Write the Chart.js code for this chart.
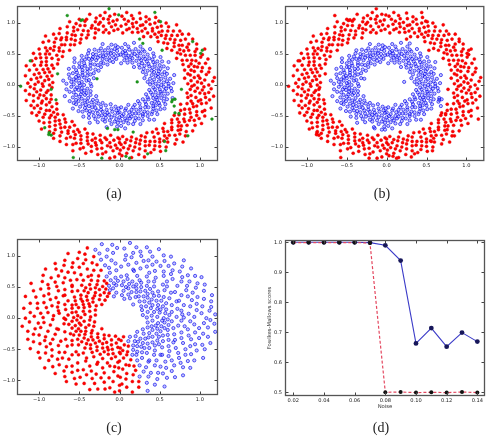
<!DOCTYPE html>
<html><head><meta charset="utf-8">
<script src="https://cdn.jsdelivr.net/npm/chart.js@4/dist/chart.umd.min.js"></script>
<style>
html,body{margin:0;padding:0;background:#fff;}
#wrap{position:relative;width:489px;height:438px;overflow:hidden;background:#fff;}
canvas{position:absolute;}
.cap{position:absolute;font-family:'Liberation Serif','DejaVu Serif',serif;font-size:14px;color:#222;transform:translate(-50%,-50%);line-height:1;white-space:nowrap;}
</style></head><body>
<div id="wrap">
<canvas id="ca" width="245" height="215" style="left:0;top:0"></canvas>
<canvas id="cb" width="244" height="215" style="left:245px;top:0"></canvas>
<canvas id="cc" width="245" height="218" style="left:0;top:220px"></canvas>
<canvas id="cd" width="244" height="218" style="left:245px;top:220px"></canvas>
<div class="cap" style="left:114px;top:194px">(a)</div>
<div class="cap" style="left:382px;top:194px">(b)</div>
<div class="cap" style="left:114px;top:428px">(c)</div>
<div class="cap" style="left:381px;top:428px">(d)</div>
</div>
<script>
// ---------- data: panels (a) and (b) ----------
const ringOuter = [
0.93,0,1.11,0,1.02,0.03,0.85,0.02,1.16,0.06,0.97,0.05,0.89,0.07,1.06,0.08,1,0.11,1.18,0.12,0.93,0.12,0.81,0.11,1.08,0.17,0.98,0.15,1.11,0.21,0.88,0.16,1.02,0.22,0.85,0.18,0.93,0.22,1.12,0.27,1.03,0.28,0.89,0.24,0.81,0.24,0.97,0.29,1.07,0.35,0.93,0.3,0.86,0.3,0.99,0.35,1.1,0.42,0.89,0.34,0.95,0.39,0.79,0.33,0.9,0.4,1.01,0.45,0.84,0.4,1.03,0.49,0.94,0.48,0.78,0.4,0.88,0.48,1.06,0.58,0.82,0.48,0.94,0.54,0.96,0.58,0.71,0.43,0.86,0.56,0.76,0.5,0.96,0.66,0.8,0.55,0.72,0.52,0.84,0.61,0.86,0.66,0.75,0.57,0.78,0.64,0.91,0.74,0.65,0.56,0.74,0.64,0.82,0.74,0.68,0.62,0.76,0.72,0.86,0.82,0.68,0.68,0.59,0.59,0.78,0.82,0.69,0.73,0.6,0.67,0.72,0.8,0.75,0.87,0.63,0.74,0.65,0.8,0.55,0.68,0.67,0.87,0.57,0.75,0.58,0.8,0.71,0.97,0.48,0.7,0.6,0.87,0.61,0.94,0.52,0.8,0.53,0.87,0.47,0.77,0.58,1,0.49,0.85,0.44,0.82,0.52,0.95,0.47,0.93,0.39,0.78,0.49,1.03,0.41,0.87,0.41,0.91,0.44,1,0.35,0.84,0.45,1.09,0.38,0.98,0.3,0.78,0.32,0.91,0.37,1.06,0.33,1.02,0.28,0.87,0.33,1.1,0.29,0.97,0.23,0.85,0.26,0.96,0.26,1.07,0.22,0.91,0.21,1.01,0.25,1.16,0.16,0.85,0.17,0.94,0.17,1.07,0.16,0.99,0.12,0.91,0.15,1.12,0.11,1.03,0.09,0.89,0.09,1.17,0.08,0.98,0.06,1.06,0.04,0.84,0.02,0.95,0.03,1.11,
-1.05,0.01,-0.87,0,-1.14,0.03,-0.96,0.02,-0.83,0.04,-1.01,0.05,-1.1,0.09,-0.93,0.07,-0.88,0.09,-1.03,0.11,-1.17,0.15,-0.98,0.13,-0.9,0.14,-1.06,0.17,-1,0.19,-0.84,0.15,-1.12,0.24,-0.93,0.2,-1.03,0.25,-0.87,0.21,-0.95,0.25,-1.16,0.31,-1.06,0.32,-0.89,0.26,-0.82,0.27,-0.98,0.32,-1.09,0.39,-0.91,0.32,-0.97,0.37,-0.84,0.32,-1.04,0.43,-0.91,0.38,-0.77,0.34,-0.98,0.44,-0.91,0.44,-1.07,0.51,-0.84,0.43,-0.99,0.5,-0.92,0.5,-0.76,0.41,-1,0.58,-0.87,0.5,-0.78,0.48,-0.9,0.55,-0.92,0.6,-0.71,0.46,-0.82,0.56,-0.86,0.59,-0.95,0.69,-0.75,0.55,-0.81,0.62,-0.7,0.54,-0.88,0.71,-0.75,0.6,-0.81,0.69,-0.92,0.79,-0.72,0.65,-0.62,0.56,-0.79,0.75,-0.68,0.65,-0.73,0.73,-0.82,0.82,-0.61,0.65,-0.72,0.76,-0.75,0.83,-0.66,0.73,-0.56,0.65,-0.66,0.77,-0.74,0.91,-0.6,0.74,-0.65,0.84,-0.55,0.72,-0.59,0.81,-0.49,0.68,-0.65,0.94,-0.55,0.8,-0.57,0.87,-0.48,0.74,-0.62,1.02,-0.57,0.93,-0.47,0.81,-0.52,0.89,-0.54,0.99,-0.41,0.76,-0.45,0.88,-0.49,0.96,-0.39,0.81,-0.5,1.06,-0.43,0.96,-0.39,0.87,-0.43,1.03,-0.31,0.76,-0.35,0.92,-0.41,1.06,-0.34,0.96,-0.3,0.84,-0.37,1.14,-0.3,0.91,-0.26,0.89,-0.3,1.02,-0.29,1.08,-0.26,0.98,-0.2,0.85,-0.24,1.01,-0.2,0.95,-0.24,1.12,-0.2,1.07,-0.17,0.89,-0.13,0.84,-0.18,1.17,-0.13,1,-0.14,1.06,-0.1,0.94,-0.12,1.11,-0.08,1.03,-0.07,0.88,-0.06,1.14,-0.05,0.97,-0.02,0.9,-0.03,1.05,
0,-0.93,0,-1.11,-0.03,-1.02,-0.02,-0.85,-0.06,-1.16,-0.05,-0.97,-0.07,-0.89,-0.08,-1.06,-0.11,-1,-0.12,-1.18,-0.12,-0.93,-0.11,-0.81,-0.17,-1.08,-0.15,-0.98,-0.21,-1.11,-0.16,-0.88,-0.22,-1.02,-0.18,-0.85,-0.22,-0.93,-0.27,-1.12,-0.28,-1.03,-0.24,-0.89,-0.24,-0.81,-0.29,-0.97,-0.35,-1.07,-0.3,-0.93,-0.3,-0.86,-0.35,-0.99,-0.42,-1.1,-0.34,-0.89,-0.39,-0.95,-0.33,-0.79,-0.4,-0.9,-0.45,-1.01,-0.4,-0.84,-0.49,-1.03,-0.48,-0.94,-0.4,-0.78,-0.48,-0.88,-0.58,-1.06,-0.48,-0.82,-0.54,-0.94,-0.58,-0.96,-0.43,-0.71,-0.56,-0.86,-0.5,-0.76,-0.66,-0.96,-0.55,-0.8,-0.52,-0.72,-0.61,-0.84,-0.66,-0.86,-0.57,-0.75,-0.64,-0.78,-0.74,-0.91,-0.56,-0.65,-0.64,-0.74,-0.74,-0.82,-0.62,-0.68,-0.72,-0.76,-0.82,-0.86,-0.68,-0.68,-0.59,-0.59,-0.82,-0.78,-0.73,-0.69,-0.67,-0.6,-0.8,-0.72,-0.87,-0.75,-0.74,-0.63,-0.8,-0.65,-0.68,-0.55,-0.87,-0.67,-0.75,-0.57,-0.8,-0.58,-0.97,-0.71,-0.7,-0.48,-0.87,-0.6,-0.94,-0.61,-0.8,-0.52,-0.87,-0.53,-0.77,-0.47,-1,-0.58,-0.85,-0.49,-0.82,-0.44,-0.95,-0.52,-0.93,-0.47,-0.78,-0.39,-1.03,-0.49,-0.87,-0.41,-0.91,-0.41,-1,-0.44,-0.84,-0.35,-1.09,-0.45,-0.98,-0.38,-0.78,-0.3,-0.91,-0.32,-1.06,-0.37,-1.02,-0.33,-0.87,-0.28,-1.1,-0.33,-0.97,-0.29,-0.85,-0.23,-0.96,-0.26,-1.07,-0.26,-0.91,-0.22,-1.01,-0.21,-1.16,-0.25,-0.85,-0.16,-0.94,-0.17,-1.07,-0.17,-0.99,-0.16,-0.91,-0.12,-1.12,-0.15,-1.03,-0.11,-0.89,-0.09,-1.17,-0.09,-0.98,-0.08,-1.06,-0.06,-0.84,-0.04,-0.95,-0.02,-1.11,-0.03,
0.01,-1.05,0,-0.87,0.03,-1.14,0.02,-0.96,0.04,-0.83,0.05,-1.01,0.09,-1.1,0.07,-0.93,0.09,-0.88,0.11,-1.03,0.15,-1.17,0.13,-0.98,0.14,-0.9,0.17,-1.06,0.19,-1,0.15,-0.84,0.24,-1.12,0.2,-0.93,0.25,-1.03,0.21,-0.87,0.25,-0.95,0.31,-1.16,0.32,-1.06,0.26,-0.89,0.27,-0.82,0.32,-0.98,0.39,-1.09,0.32,-0.91,0.37,-0.97,0.32,-0.84,0.43,-1.04,0.38,-0.91,0.34,-0.77,0.44,-0.98,0.44,-0.91,0.51,-1.07,0.43,-0.84,0.5,-0.99,0.5,-0.92,0.41,-0.76,0.58,-1,0.5,-0.87,0.48,-0.78,0.55,-0.9,0.6,-0.92,0.46,-0.71,0.56,-0.82,0.59,-0.86,0.69,-0.95,0.55,-0.75,0.62,-0.81,0.54,-0.7,0.71,-0.88,0.6,-0.75,0.69,-0.81,0.79,-0.92,0.65,-0.72,0.56,-0.62,0.75,-0.79,0.65,-0.68,0.73,-0.73,0.82,-0.82,0.65,-0.61,0.76,-0.72,0.83,-0.75,0.73,-0.66,0.65,-0.56,0.77,-0.66,0.91,-0.74,0.74,-0.6,0.84,-0.65,0.72,-0.55,0.81,-0.59,0.68,-0.49,0.94,-0.65,0.8,-0.55,0.87,-0.57,0.74,-0.48,1.02,-0.62,0.93,-0.57,0.81,-0.47,0.89,-0.52,0.99,-0.54,0.76,-0.41,0.88,-0.45,0.96,-0.49,0.81,-0.39,1.06,-0.5,0.96,-0.43,0.87,-0.39,1.03,-0.43,0.76,-0.31,0.92,-0.35,1.06,-0.41,0.96,-0.34,0.84,-0.3,1.14,-0.37,0.91,-0.3,0.89,-0.26,1.02,-0.3,1.08,-0.29,0.98,-0.26,0.85,-0.2,1.01,-0.24,0.95,-0.2,1.12,-0.24,1.07,-0.2,0.89,-0.17,0.84,-0.13,1.17,-0.18,1,-0.13,1.06,-0.14,0.94,-0.1,1.11,-0.12,1.03,-0.08,0.88,-0.07,1.14,-0.06,0.97,-0.05,0.9,-0.02,1.05,-0.03
];
const ringInner = [
0.52,0,0.38,0.01,0.61,0.02,0.45,0.02,0.67,0.03,0.55,0.04,0.41,0.04,0.59,0.06,0.49,0.06,0.63,0.1,0.35,0.05,0.52,0.1,0.43,0.09,0.57,0.12,0.68,0.16,0.48,0.13,0.38,0.1,0.59,0.18,0.45,0.15,0.53,0.17,0.31,0.11,0.56,0.21,0.48,0.18,0.4,0.16,0.6,0.27,0.49,0.22,0.43,0.21,0.33,0.17,0.51,0.26,0.55,0.3,0.4,0.23,0.46,0.27,0.61,0.37,0.35,0.23,0.5,0.32,0.41,0.28,0.53,0.38,0.29,0.21,0.44,0.33,0.37,0.3,0.47,0.38,0.3,0.26,0.42,0.37,0.51,0.45,0.36,0.34,0.31,0.31,0.41,0.41,0.43,0.46,0.34,0.38,0.25,0.28,0.37,0.43,0.28,0.35,0.42,0.51,0.32,0.42,0.35,0.49,0.24,0.33,0.27,0.4,0.3,0.46,0.38,0.58,0.18,0.29,0.31,0.54,0.25,0.43,0.21,0.39,0.26,0.51,0.29,0.57,0.22,0.47,0.16,0.36,0.24,0.54,0.26,0.62,0.16,0.43,0.19,0.5,0.2,0.58,0.13,0.41,0.15,0.48,0.16,0.54,0.18,0.68,0.1,0.36,0.11,0.47,0.12,0.57,0.09,0.44,0.11,0.62,0.08,0.51,0.06,0.4,0.07,0.55,0.05,0.47,0.07,0.66,0.04,0.53,0.03,0.6,0.02,0.35,0.01,0.49,
-0.57,0.01,-0.44,0,-0.66,0.02,-0.5,0.03,-0.36,0.02,-0.6,0.05,-0.47,0.05,-0.7,0.07,-0.54,0.07,-0.41,0.07,-0.57,0.09,-0.62,0.11,-0.5,0.11,-0.38,0.08,-0.54,0.13,-0.63,0.17,-0.44,0.12,-0.51,0.15,-0.32,0.11,-0.58,0.19,-0.46,0.16,-0.53,0.2,-0.4,0.15,-0.63,0.26,-0.46,0.2,-0.54,0.24,-0.36,0.17,-0.57,0.29,-0.46,0.24,-0.4,0.21,-0.5,0.29,-0.32,0.19,-0.47,0.29,-0.56,0.37,-0.4,0.26,-0.5,0.35,-0.36,0.26,-0.43,0.31,-0.56,0.43,-0.3,0.25,-0.44,0.35,-0.47,0.4,-0.36,0.32,-0.26,0.23,-0.43,0.41,-0.36,0.36,-0.47,0.47,-0.31,0.33,-0.38,0.42,-0.41,0.46,-0.27,0.32,-0.34,0.42,-0.23,0.29,-0.39,0.51,-0.29,0.4,-0.33,0.45,-0.38,0.56,-0.23,0.36,-0.33,0.5,-0.27,0.44,-0.2,0.35,-0.29,0.49,-0.31,0.57,-0.21,0.42,-0.24,0.47,-0.26,0.55,-0.15,0.33,-0.2,0.46,-0.21,0.52,-0.23,0.59,-0.16,0.41,-0.17,0.48,-0.18,0.56,-0.21,0.66,-0.12,0.39,-0.14,0.52,-0.12,0.45,-0.14,0.6,-0.08,0.37,-0.11,0.51,-0.1,0.56,-0.1,0.65,-0.07,0.44,-0.07,0.5,-0.06,0.58,-0.04,0.42,-0.05,0.64,-0.02,0.48,-0.03,0.55,-0.02,0.61,
0,-0.52,-0.01,-0.38,-0.02,-0.61,-0.02,-0.45,-0.03,-0.67,-0.04,-0.55,-0.04,-0.41,-0.06,-0.59,-0.06,-0.49,-0.1,-0.63,-0.05,-0.35,-0.1,-0.52,-0.09,-0.43,-0.12,-0.57,-0.16,-0.68,-0.13,-0.48,-0.1,-0.38,-0.18,-0.59,-0.15,-0.45,-0.17,-0.53,-0.11,-0.31,-0.21,-0.56,-0.18,-0.48,-0.16,-0.4,-0.27,-0.6,-0.22,-0.49,-0.21,-0.43,-0.17,-0.33,-0.26,-0.51,-0.3,-0.55,-0.23,-0.4,-0.27,-0.46,-0.37,-0.61,-0.23,-0.35,-0.32,-0.5,-0.28,-0.41,-0.38,-0.53,-0.21,-0.29,-0.33,-0.44,-0.3,-0.37,-0.38,-0.47,-0.26,-0.3,-0.37,-0.42,-0.45,-0.51,-0.34,-0.36,-0.31,-0.31,-0.41,-0.41,-0.46,-0.43,-0.38,-0.34,-0.28,-0.25,-0.43,-0.37,-0.35,-0.28,-0.51,-0.42,-0.42,-0.32,-0.49,-0.35,-0.33,-0.24,-0.4,-0.27,-0.46,-0.3,-0.58,-0.38,-0.29,-0.18,-0.54,-0.31,-0.43,-0.25,-0.39,-0.21,-0.51,-0.26,-0.57,-0.29,-0.47,-0.22,-0.36,-0.16,-0.54,-0.24,-0.62,-0.26,-0.43,-0.16,-0.5,-0.19,-0.58,-0.2,-0.41,-0.13,-0.48,-0.15,-0.54,-0.16,-0.68,-0.18,-0.36,-0.1,-0.47,-0.11,-0.57,-0.12,-0.44,-0.09,-0.62,-0.11,-0.51,-0.08,-0.4,-0.06,-0.55,-0.07,-0.47,-0.05,-0.66,-0.07,-0.53,-0.04,-0.6,-0.03,-0.35,-0.02,-0.49,-0.01,
0.01,-0.57,0,-0.44,0.02,-0.66,0.03,-0.5,0.02,-0.36,0.05,-0.6,0.05,-0.47,0.07,-0.7,0.07,-0.54,0.07,-0.41,0.09,-0.57,0.11,-0.62,0.11,-0.5,0.08,-0.38,0.13,-0.54,0.17,-0.63,0.12,-0.44,0.15,-0.51,0.11,-0.32,0.19,-0.58,0.16,-0.46,0.2,-0.53,0.15,-0.4,0.26,-0.63,0.2,-0.46,0.24,-0.54,0.17,-0.36,0.29,-0.57,0.24,-0.46,0.21,-0.4,0.29,-0.5,0.19,-0.32,0.29,-0.47,0.37,-0.56,0.26,-0.4,0.35,-0.5,0.26,-0.36,0.31,-0.43,0.43,-0.56,0.25,-0.3,0.35,-0.44,0.4,-0.47,0.32,-0.36,0.23,-0.26,0.41,-0.43,0.36,-0.36,0.47,-0.47,0.33,-0.31,0.42,-0.38,0.46,-0.41,0.32,-0.27,0.42,-0.34,0.29,-0.23,0.51,-0.39,0.4,-0.29,0.45,-0.33,0.56,-0.38,0.36,-0.23,0.5,-0.33,0.44,-0.27,0.35,-0.2,0.49,-0.29,0.57,-0.31,0.42,-0.21,0.47,-0.24,0.55,-0.26,0.33,-0.15,0.46,-0.2,0.52,-0.21,0.59,-0.23,0.41,-0.16,0.48,-0.17,0.56,-0.18,0.66,-0.21,0.39,-0.12,0.52,-0.14,0.45,-0.12,0.6,-0.14,0.37,-0.08,0.51,-0.11,0.56,-0.1,0.65,-0.1,0.44,-0.07,0.5,-0.07,0.58,-0.06,0.42,-0.04,0.64,-0.05,0.48,-0.02,0.55,-0.03,0.61,-0.02
];
// points marked as noise in (a); in (b) they belong to the outer / inner ring
const noiseOuter = [
-0.65,1.12,-0.48,1.04,-0.46,1.05,-0.13,1.23,-0.01,1.13,0.44,1.17,0.51,1.02,0.25,0.74,0.53,0.56,0.91,0.7,1.01,0.51,1.03,0.56,-1.11,0.39,-0.77,0.18,-1.23,-0.02,-0.85,-0.07,0.77,-0.07,0.69,-0.45,0.74,-0.46,1.15,-0.55,-0.79,-0.24,-0.93,-0.69,-0.875,-0.77,-0.85,-0.81,-0.88,-0.8,0.17,-0.76,0.85,-0.82,0.56,-0.91,-0.575,-1.17,-0.22,-1.18,0.08,-1.15,0.125,-1.18,0.35,-1.11,0.575,-1.06
];
const noiseInner = [
0.29,0.67,-0.28,0.1,0.22,0.05,0.66,-0.24,0.69,-0.23,0.65,-0.27,0.68,-0.34,-0.15,-0.7,-0.06,-0.72,-0.02,-0.72
];
// ---------- data: panel (c) ----------
const noisyRed = [
0,-1.08,-0.01,-0.8,-0.02,-0.93,-0.06,-1.19,-0.07,-0.86,-0.08,-1.02,-0.12,-1.12,-0.13,-0.96,-0.12,-0.77,-0.18,-1.14,-0.19,-1.03,-0.19,-0.88,-0.27,-1.14,-0.23,-0.96,-0.21,-0.8,-0.31,-1.05,-0.29,-0.9,-0.37,-1.15,-0.34,-0.97,-0.27,-0.71,-0.44,-1.05,-0.35,-0.85,-0.41,-0.91,-0.37,-0.77,-0.54,-1.06,-0.49,-0.95,-0.45,-0.83,-0.56,-0.97,-0.42,-0.69,-0.52,-0.84,-0.66,-1.02,-0.59,-0.87,-0.52,-0.72,-0.68,-0.94,-0.59,-0.77,-0.69,-0.85,-0.51,-0.59,-0.66,-0.78,-0.8,-0.89,-0.63,-0.66,-0.75,-0.75,-0.59,-0.59,-0.83,-0.78,-0.71,-0.64,-0.77,-0.66,-0.93,-0.8,-0.68,-0.55,-0.88,-0.68,-0.75,-0.55,-0.84,-0.61,-0.65,-0.45,-0.99,-0.64,-0.84,-0.51,-0.92,-0.56,-0.76,-0.44,-1.01,-0.55,-0.91,-0.46,-0.73,-0.37,-0.86,-0.41,-1.11,-0.49,-0.99,-0.41,-0.83,-0.34,-0.93,-0.36,-1.07,-0.38,-0.8,-0.26,-0.92,-0.3,-1.14,-0.34,-1,-0.27,-0.89,-0.21,-1.07,-0.26,-0.78,-0.17,-1.14,-0.21,-0.98,-0.15,-1.05,-0.17,-0.86,-0.11,-1.21,-0.13,-1.01,-0.08,-0.94,-0.07,-1.12,-0.06,-0.83,-0.02,
-0.95,0.01,-1.17,0,-1.06,0.03,-0.82,0.04,-1.11,0.09,-0.98,0.08,-0.89,0.09,-1.19,0.16,-1.02,0.16,-0.76,0.12,-0.91,0.17,-1.11,0.24,-0.84,0.2,-1.02,0.24,-0.94,0.25,-1.17,0.35,-0.76,0.25,-1.04,0.34,-0.86,0.3,-0.94,0.36,-1.07,0.44,-0.79,0.33,-0.88,0.39,-0.98,0.47,-0.7,0.36,-1.1,0.56,-0.88,0.48,-0.76,0.44,-0.96,0.59,-0.89,0.54,-0.78,0.51,-0.68,0.46,-0.95,0.69,-0.8,0.58,-0.85,0.65,-0.7,0.57,-0.92,0.79,-0.59,0.51,-0.76,0.68,-0.68,0.65,-0.79,0.79,-0.61,0.61,-0.72,0.76,-0.8,0.88,-0.53,0.62,-0.64,0.74,-0.69,0.85,-0.56,0.73,-0.68,0.93,-0.59,0.82,-0.48,0.7,-0.58,0.89,-0.5,0.82,-0.64,1.04,-0.39,0.67,-0.52,0.96,-0.45,0.88,-0.4,0.79,-0.5,1.06,-0.42,0.94,-0.32,0.77,-0.43,1.03,-0.34,0.89,-0.4,1.13,-0.32,0.99,-0.28,0.86,-0.23,0.77,
0.01,-0.95,0,-1.17,0.03,-1.06,0.04,-0.82,0.09,-1.11,0.08,-0.98,0.09,-0.89,0.16,-1.19,0.16,-1.02,0.12,-0.76,0.17,-0.91,0.24,-1.11,0.2,-0.84,0.24,-1.02,
0,-0.55,-0.01,-0.34,-0.02,-0.71,-0.02,-0.47,-0.05,-0.62,-0.06,-0.78,-0.04,-0.4,-0.08,-0.57,-0.05,-0.29,-0.1,-0.65,-0.09,-0.5,-0.15,-0.72,-0.1,-0.43,-0.14,-0.58,-0.14,-0.51,-0.1,-0.35,-0.21,-0.65,-0.15,-0.47,-0.19,-0.54,-0.28,-0.74,-0.16,-0.39,-0.24,-0.58,-0.21,-0.48,-0.13,-0.28,-0.32,-0.62,-0.21,-0.41,-0.28,-0.52,-0.19,-0.33,-0.34,-0.55,-0.28,-0.46,-0.41,-0.64,-0.25,-0.37,-0.36,-0.49,-0.19,-0.27,-0.3,-0.4,-0.45,-0.56,-0.36,-0.43,-0.27,-0.31,-0.43,-0.48,-0.33,-0.35,-0.54,-0.54,-0.41,-0.41,-0.27,-0.25,-0.39,-0.35,-0.51,-0.43,-0.35,-0.3,-0.47,-0.38,-0.22,-0.17,-0.44,-0.32,-0.59,-0.43,-0.35,-0.24,-0.52,-0.34,-0.43,-0.26,-0.59,-0.36,-0.34,-0.2,-0.5,-0.27,-0.67,-0.34,-0.42,-0.21,-0.57,-0.27,-0.48,-0.21,-0.32,-0.13,-0.61,-0.25,-0.54,-0.21,-0.42,-0.15,-0.68,-0.22,-0.51,-0.17,-0.38,-0.11,-0.59,-0.16,-0.48,-0.11,-0.76,-0.18,-0.55,-0.12,-0.31,-0.06,-0.63,-0.1,-0.5,-0.08,-0.69,-0.09,-0.44,-0.05,-0.59,-0.05,-0.37,-0.03,-0.53,-0.03,-0.67,-0.02,
-0.48,0.01,-0.69,0,-0.57,0.01,-0.36,0.02,-0.64,0.05,-0.52,0.04,-0.75,0.08,-0.43,0.06,-0.59,0.09,-0.3,0.05,-0.54,0.1,-0.67,0.14,-0.45,0.11,-0.77,0.18,-0.59,0.16,-0.37,0.11,-0.51,0.17,-0.68,0.22,-0.59,0.21,-0.44,0.17,-0.3,0.13,-0.54,0.22,-0.64,0.28,-0.45,0.22,-0.55,0.28,-0.37,0.19,-0.68,0.37,-0.46,0.27,-0.38,0.23,-0.56,0.34,-0.48,0.31,-0.29,0.2,-0.59,0.43,-0.4,0.29,-0.48,0.37,-0.33,0.26,-0.52,0.44,-0.41,0.35,-0.59,0.53,-0.33,0.32,-0.44,0.44,-0.22,0.22,-0.39,0.41,-0.47,0.53,-0.31,0.36,-0.42,0.49,-0.25,0.3,-0.36,0.47,-0.45,0.61,-0.3,0.41,-0.37,0.54,-0.24,0.37,-0.3,0.49,-0.18,0.29,-0.35,0.61,-0.25,0.46,-0.28,0.54,-0.35,0.69,-0.19,0.41,-0.27,0.6,-0.21,0.51,-0.15,0.35,-0.26,0.68,-0.17,0.47,-0.19,0.6,-0.13,0.4,-0.16,0.56,
0.01,-0.48,0,-0.69,0.01,-0.57,0.02,-0.36,0.05,-0.64,0.04,-0.52,0.08,-0.75,0.06,-0.43,0.09,-0.59,0.05,-0.3,0.1,-0.54,0.14,-0.67,0.11,-0.45,0.18,-0.77
];
const noisyBlue = [
1.08,0,0.8,0.01,0.93,0.02,1.19,0.06,0.86,0.07,1.02,0.08,1.12,0.12,0.96,0.13,0.77,0.12,1.14,0.18,1.03,0.19,0.88,0.19,1.14,0.27,0.96,0.23,0.8,0.21,1.05,0.31,0.9,0.29,1.15,0.37,0.97,0.34,0.71,0.27,1.05,0.44,0.85,0.35,0.91,0.41,0.77,0.37,1.06,0.54,0.95,0.49,0.83,0.45,0.97,0.56,0.69,0.42,0.84,0.52,1.02,0.66,0.87,0.59,0.72,0.52,0.94,0.68,0.77,0.59,0.85,0.69,0.59,0.51,0.78,0.66,0.89,0.8,0.66,0.63,0.75,0.75,0.59,0.59,0.78,0.83,0.64,0.71,0.66,0.77,0.8,0.93,0.55,0.68,0.68,0.88,0.55,0.75,0.61,0.84,0.45,0.65,0.64,0.99,0.51,0.84,0.56,0.92,0.44,0.76,0.55,1.01,0.46,0.91,0.37,0.73,0.41,0.86,0.49,1.11,0.41,0.99,0.34,0.83,0.36,0.93,0.38,1.07,0.26,0.8,0.3,0.92,0.34,1.14,0.27,1,0.21,0.89,0.26,1.07,0.17,0.78,0.21,1.14,0.15,0.98,0.17,1.05,0.11,0.86,0.13,1.21,0.08,1.01,0.07,0.94,0.06,1.12,0.02,0.83,
-0.3,1.1,-0.23,0.94,-0.25,1.04,-0.18,0.85,-0.22,1.19,-0.16,0.99,-0.13,0.81,-0.15,1.1,-0.1,0.93,-0.08,1.05,-0.09,1.18,-0.05,0.88,-0.03,1.13,
0.25,-0.94,0.35,-1.17,0.25,-0.76,0.34,-1.04,0.3,-0.86,0.36,-0.94,0.44,-1.07,0.33,-0.79,0.39,-0.88,0.47,-0.98,0.36,-0.7,0.56,-1.1,0.48,-0.88,0.44,-0.76,0.59,-0.96,0.54,-0.89,0.51,-0.78,0.46,-0.68,0.69,-0.95,0.58,-0.8,0.65,-0.85,0.57,-0.7,0.79,-0.92,0.51,-0.59,0.68,-0.76,0.65,-0.68,0.79,-0.79,0.61,-0.61,0.76,-0.72,0.88,-0.8,0.62,-0.53,0.74,-0.64,0.85,-0.69,0.73,-0.56,0.93,-0.68,0.82,-0.59,0.7,-0.48,0.89,-0.58,0.82,-0.5,1.04,-0.64,0.67,-0.39,0.96,-0.52,0.88,-0.45,0.79,-0.4,1.06,-0.5,0.94,-0.42,0.77,-0.32,1.03,-0.43,0.89,-0.34,1.13,-0.4,0.99,-0.32,0.86,-0.28,0.77,-0.23,1.1,-0.3,0.94,-0.23,1.04,-0.25,0.85,-0.18,1.19,-0.22,0.99,-0.16,0.81,-0.13,1.1,-0.15,0.93,-0.1,1.05,-0.08,1.18,-0.09,0.88,-0.05,1.13,-0.03,
0.55,0,0.34,0.01,0.71,0.02,0.47,0.02,0.62,0.05,0.78,0.06,0.4,0.04,0.57,0.08,0.29,0.05,0.65,0.1,0.5,0.09,0.72,0.15,0.43,0.1,0.58,0.14,0.51,0.14,0.35,0.1,0.65,0.21,0.47,0.15,0.54,0.19,0.74,0.28,0.39,0.16,0.58,0.24,0.48,0.21,0.28,0.13,0.62,0.32,0.41,0.21,0.52,0.28,0.33,0.19,0.55,0.34,0.46,0.28,0.64,0.41,0.37,0.25,0.49,0.36,0.27,0.19,0.4,0.3,0.56,0.45,0.43,0.36,0.31,0.27,0.48,0.43,0.35,0.33,0.54,0.54,0.41,0.41,0.25,0.27,0.35,0.39,0.43,0.51,0.3,0.35,0.38,0.47,0.17,0.22,0.32,0.44,0.43,0.59,0.24,0.35,0.34,0.52,0.26,0.43,0.36,0.59,0.2,0.34,0.27,0.5,0.34,0.67,0.21,0.42,0.27,0.57,0.21,0.48,0.13,0.32,0.25,0.61,0.21,0.54,0.15,0.42,0.22,0.68,0.17,0.51,0.11,0.38,0.16,0.59,0.11,0.48,0.18,0.76,0.12,0.55,0.06,0.31,0.1,0.63,0.08,0.5,0.09,0.69,0.05,0.44,0.05,0.59,0.03,0.37,0.03,0.53,0.02,0.67,
-0.12,0.45,-0.16,0.67,-0.13,0.52,-0.07,0.35,-0.11,0.61,-0.12,0.73,-0.08,0.48,-0.07,0.56,-0.04,0.41,-0.05,0.65,-0.04,0.53,-0.04,0.77,-0.02,0.6,
0.16,-0.59,0.11,-0.37,0.17,-0.51,0.22,-0.68,0.21,-0.59,0.17,-0.44,0.13,-0.3,0.22,-0.54,0.28,-0.64,0.22,-0.45,0.28,-0.55,0.19,-0.37,0.37,-0.68,0.27,-0.46,0.23,-0.38,0.34,-0.56,0.31,-0.48,0.2,-0.29,0.43,-0.59,0.29,-0.4,0.37,-0.48,0.26,-0.33,0.44,-0.52,0.35,-0.41,0.53,-0.59,0.32,-0.33,0.44,-0.44,0.22,-0.22,0.41,-0.39,0.53,-0.47,0.36,-0.31,0.49,-0.42,0.3,-0.25,0.47,-0.36,0.61,-0.45,0.41,-0.3,0.54,-0.37,0.37,-0.24,0.49,-0.3,0.29,-0.18,0.61,-0.35,0.46,-0.25,0.54,-0.28,0.69,-0.35,0.41,-0.19,0.6,-0.27,0.51,-0.21,0.35,-0.15,0.68,-0.26,0.47,-0.17,0.6,-0.19,0.4,-0.13,0.56,-0.16,0.45,-0.12,0.67,-0.16,0.52,-0.13,0.35,-0.07,0.61,-0.11,0.73,-0.12,0.48,-0.08,0.56,-0.07,0.41,-0.04,0.65,-0.05,0.53,-0.04,0.77,-0.04,0.6,-0.02
];
// ---------- data: panel (d) ----------
const noiseLevels = [0.02,0.03,0.04,0.05,0.06,0.07,0.08,0.09,0.10,0.11,0.12,0.13,0.14];
const scoresSolid = [1.0,1.0,1.0,1.0,1.0,0.999,0.99,0.939,0.663,0.714,0.652,0.699,0.669];
const scoresDashed = [0.999,0.999,0.999,0.999,0.999,0.998,0.5,0.501,0.499,0.5,0.499,0.501,0.499];
// ---------- ticks ----------
const ringTicks = [-1, -0.5, 0, 0.5, 1];
const ringTickLabels = ['\u22121.0', '\u22120.5', '0.0', '0.5', '1.0'];
const noiseTicks = [0.02, 0.04, 0.06, 0.08, 0.10, 0.12, 0.14];
const noiseTickLabels = ['0.02', '0.04', '0.06', '0.08', '0.10', '0.12', '0.14'];
const scoreTicks = [0.5, 0.6, 0.7, 0.8, 0.9, 1.0];
const scoreTickLabels = ['0.5', '0.6', '0.7', '0.8', '0.9', '1.0'];

function toPoints(flat) {
  const out = [];
  for (let i = 0; i < flat.length; i += 2) out.push({x: flat[i], y: flat[i + 1]});
  return out;
}

const TICK_FONT = {family: 'DejaVu Sans', size: 5.1};

const frameTicks = {
  id: 'frameTicks',
  afterDraw(chart) {
    const {ctx, chartArea: a, scales} = chart;
    ctx.save();
    ctx.strokeStyle = '#444';
    ctx.lineWidth = 1;
    ctx.beginPath();
    scales.x.ticks.forEach(t => {
      const px = Math.round(scales.x.getPixelForValue(t.value)) + 0.5;
      ctx.moveTo(px, a.bottom); ctx.lineTo(px, a.bottom - 3.5);
      ctx.moveTo(px, a.top); ctx.lineTo(px, a.top + 3.5);
    });
    scales.y.ticks.forEach(t => {
      const py = Math.round(scales.y.getPixelForValue(t.value)) + 0.5;
      ctx.moveTo(a.left, py); ctx.lineTo(a.left + 3.5, py);
      ctx.moveTo(a.right, py); ctx.lineTo(a.right - 3.5, py);
    });
    ctx.stroke();
    ctx.strokeStyle = '#555';
    ctx.lineWidth = 1.3;
    ctx.strokeRect(a.left + 0.5, a.top + 0.5, a.right - a.left - 1, a.bottom - a.top - 1);
    const titles = chart.options.plugins.frameTicks && chart.options.plugins.frameTicks.titles;
    if (titles) {
      ctx.fillStyle = '#333';
      ctx.font = '5.3px "DejaVu Sans"';
      ctx.textAlign = 'center';
      ctx.textBaseline = 'middle';
      ctx.fillText(titles.x, (a.left + a.right) / 2, a.bottom + 10.7);
      ctx.save();
      ctx.translate(a.left - 15, (a.top + a.bottom) / 2);
      ctx.rotate(-Math.PI / 2);
      ctx.fillText(titles.y, 0, 0);
      ctx.restore();
    }
    ctx.restore();
  }
};

function axis(min, max, ticks, labels, isX, size, pad) {
  return {
    type: 'linear', min: min, max: max,
    grid: {display: false, drawTicks: false, tickLength: 0}, border: {display: false},
    afterBuildTicks: a => { a.ticks = ticks.map(v => ({value: v})); },
    afterFit: s => { if (isX) s.height = size; else s.width = size; },
    ticks: {
      callback: (v, i) => labels[i],
      font: TICK_FONT, color: '#222', padding: pad,
      autoSkip: false, maxRotation: 0, minRotation: 0
    }
  };
}

function makeChart(id, datasets, xs, ys, padding, extra) {
  return new Chart(document.getElementById(id), {
    type: 'scatter',
    data: {datasets: datasets},
    options: {
      responsive: false, animation: false, devicePixelRatio: 1,
      layout: {padding: padding},
      plugins: {legend: {display: false}, tooltip: {enabled: false}, frameTicks: extra || {}},
      scales: {x: xs, y: ys}
    },
    plugins: [frameTicks]
  });
}

const redStyle = {backgroundColor: '#ff0000', borderColor: '#dd0000', borderWidth: 0.4, pointRadius: 1.55};
const blueStyle = {backgroundColor: 'rgba(90,90,255,0.35)', borderColor: 'rgba(0,0,235,0.9)', borderWidth: 0.7, pointRadius: 1.6};
const greenStyle = {backgroundColor: '#1c9c1c', borderColor: '#137a13', borderWidth: 0.4, pointRadius: 1.4};

const X_MIN = -1.275, X_MAX = 1.225;

// (a)
makeChart('ca', [
  Object.assign({data: toPoints(noiseOuter.concat(noiseInner))}, greenStyle),
  Object.assign({data: toPoints(ringOuter)}, redStyle),
  Object.assign({data: toPoints(ringInner)}, blueStyle)
],
  axis(X_MIN, X_MAX, ringTicks, ringTickLabels, true, 14, 2),
  axis(-1.226, 1.274, ringTicks, ringTickLabels, false, 17, 2),
  {left: 0, top: 6, right: 27, bottom: 40});

// (b)
makeChart('cb', [
  Object.assign({data: toPoints(ringOuter.concat(noiseOuter))}, redStyle),
  Object.assign({data: toPoints(ringInner.concat(noiseInner))}, blueStyle)
],
  axis(X_MIN, X_MAX, ringTicks, ringTickLabels, true, 14, 2),
  axis(-1.226, 1.274, ringTicks, ringTickLabels, false, 17, 2),
  {left: 23, top: 6, right: 3, bottom: 40});

// (c)
makeChart('cc', [
  Object.assign({data: toPoints(noisyRed)}, redStyle),
  Object.assign({data: toPoints(noisyBlue)}, blueStyle)
],
  axis(X_MIN, X_MAX, ringTicks, ringTickLabels, true, 14, 2),
  axis(-1.2365, 1.2735, ringTicks, ringTickLabels, false, 17, 2),
  {left: 0, top: 19, right: 27, bottom: 29});

// (d)
makeChart('cd', [
  {data: noiseLevels.map((x, i) => ({x: x, y: scoresDashed[i]})), showLine: true,
   borderColor: '#e4475f', borderWidth: 1.2, borderDash: [3, 2],
   pointRadius: 2, pointBackgroundColor: '#111', pointBorderColor: '#111', pointBorderWidth: 0},
  {data: noiseLevels.map((x, i) => ({x: x, y: scoresSolid[i]})), showLine: true,
   borderColor: '#3c3cc8', borderWidth: 1.1,
   pointRadius: 2.4, pointBackgroundColor: '#17175a', pointBorderColor: '#17175a', pointBorderWidth: 0}
],
  axis(0.0146, 0.145, noiseTicks, noiseTickLabels, true, 14, 2),
  axis(0.4877, 1.0077, scoreTicks, scoreTickLabels, false, 40, 3),
  {left: 0, top: 20, right: 3, bottom: 28},
  {titles: {x: 'Noise', y: 'Fowlkes-Mallows scores'}});
</script>
</body></html>
